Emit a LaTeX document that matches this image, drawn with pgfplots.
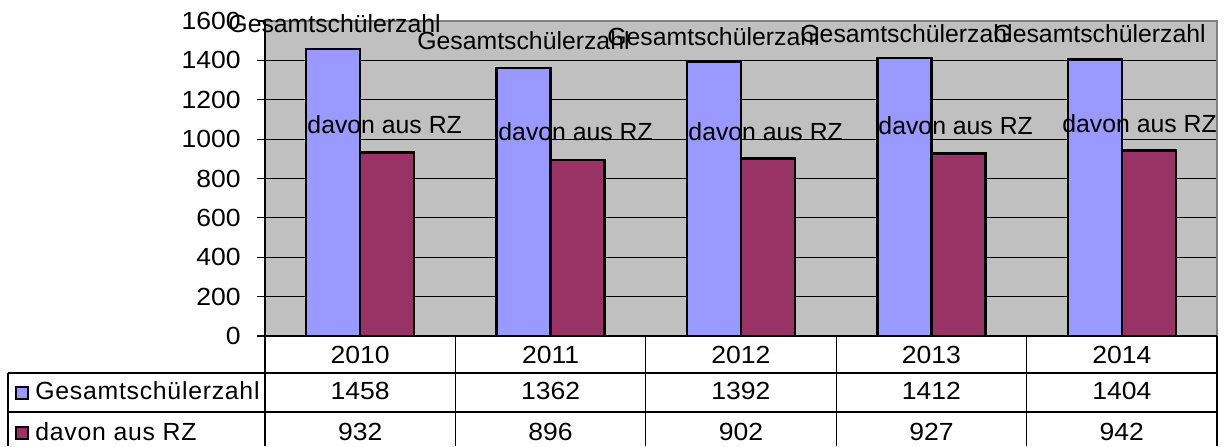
\documentclass[border=0pt]{standalone}
\usepackage{pgfplots}
\pgfplotsset{compat=1.18}
\usepackage{fontspec}
\setmainfont{Liberation Sans}
\newfontfamily\numfamily{Liberation Sans}[FakeStretch=1.07]
\definecolor{cblue}{HTML}{9999FF}
\definecolor{cmaroon}{HTML}{993366}
\definecolor{plotbg}{HTML}{C0C0C0}
\definecolor{bordergray}{HTML}{808080}
\newcommand{\lfont}{\fontsize{12.4}{14.5}\selectfont}
\newcommand{\nfont}{\numfamily\fontsize{12.4}{14.5}\selectfont}
\begin{document}
\begin{tikzpicture}[font=\lfont]
\path[use as bounding box] (-132.5pt,-55pt) rectangle (483.5pt,168pt);
\begin{axis}[
  at={(0,0)}, anchor=south west,
  width=476pt, height=157.5pt, scale only axis,
  xmin=-0.5, xmax=4.5, ymin=0, ymax=1600,
  ytick={0,200,...,1600},
  xtick={0,...,4}, xticklabels={2010,2011,2012,2013,2014},
  ytick pos=left,
  major x tick style={draw=none},
  ymajorgrids, grid style={black, line width=0.6pt},
  axis line style={bordergray, line width=0.8pt},
  tick align=outside, major tick length=4pt,
  ytick style={black, line width=0.6pt},
  tick label style={font=\nfont},
  yticklabel style={anchor=east, inner sep=0pt, xshift=-8pt},
  xticklabel style={anchor=base, inner sep=0pt, yshift=-9.5pt},
  /pgf/number format/assume math mode=true,
  /pgf/number format/1000 sep={},
  axis background/.style={fill=plotbg},
  ybar=0pt, bar width=27pt,
  clip=false,
  after end axis/.code={
    \draw[black, line width=0.8pt] (rel axis cs:0,1) -- (rel axis cs:0,0) -- (rel axis cs:1,0);
  },
]
\addplot[fill=cblue, draw=black, line width=1.1pt] coordinates {(0,1458) (1,1362) (2,1392) (3,1412) (4,1404)};
\addplot[fill=cmaroon, draw=black, line width=1.1pt] coordinates {(0,932) (1,896) (2,902) (3,927) (4,942)};

\node[anchor=base west, inner sep=0, font=\lfont] at (axis cs:-0.694,1544) {Gesamtschülerzahl};
\node[anchor=base west, inner sep=0, font=\lfont] at (axis cs:0.298,1453) {Gesamtschülerzahl};
\node[anchor=base west, inner sep=0, font=\lfont] at (axis cs:1.296,1478) {Gesamtschülerzahl};
\node[anchor=base west, inner sep=0, font=\lfont] at (axis cs:2.310,1493) {Gesamtschülerzahl};
\node[anchor=base west, inner sep=0, font=\lfont] at (axis cs:3.324,1493) {Gesamtschülerzahl};

\node[anchor=base west, inner sep=0, font=\lfont] at (axis cs:-0.279,1031) {davon aus RZ};
\node[anchor=base west, inner sep=0, font=\lfont] at (axis cs:0.724,995) {davon aus RZ};
\node[anchor=base west, inner sep=0, font=\lfont] at (axis cs:1.722,995) {davon aus RZ};
\node[anchor=base west, inner sep=0, font=\lfont] at (axis cs:2.720,1021) {davon aus RZ};
\node[anchor=base west, inner sep=0, font=\lfont] at (axis cs:3.686,1036) {davon aus RZ};

% data table
\draw[line width=0.6pt] ([xshift=-128.5pt,yshift=-18.5pt]rel axis cs:0,0) -- ([yshift=-18.5pt]rel axis cs:1,0);
\draw[line width=0.6pt] ([xshift=-128.5pt,yshift=-38pt]rel axis cs:0,0) -- ([yshift=-38pt]rel axis cs:1,0);
\draw[line width=0.6pt] ([xshift=-128.5pt,yshift=-18.5pt]rel axis cs:0,0) -- ([xshift=-128.5pt,yshift=-55pt]rel axis cs:0,0);
\pgfplotsinvokeforeach{-0.5,0.5,1.5,2.5,3.5,4.5}{
  \draw[line width=0.6pt] (axis cs:#1,0) -- ([yshift=-55pt]axis cs:#1,0);
}
\draw[fill=cblue, line width=0.6pt] ([xshift=-124.5pt,yshift=-25.5pt]rel axis cs:0,0) rectangle ++(6pt,-6pt);
\draw[fill=cmaroon, line width=0.6pt] ([xshift=-124.5pt,yshift=-45.5pt]rel axis cs:0,0) rectangle ++(6pt,-6pt);
\node[anchor=base west, inner sep=0, font=\lfont] at ([xshift=-115pt,yshift=-31.5pt]rel axis cs:0,0) {\addfontfeature{LetterSpace=3}Gesamtschülerzahl};
\node[anchor=base west, inner sep=0, font=\lfont] at ([xshift=-115pt,yshift=-52pt]rel axis cs:0,0) {\addfontfeature{LetterSpace=3}davon aus RZ};

\node[anchor=base, inner sep=0, font=\nfont] at ([yshift=-31.5pt]axis cs:0,0) {1458};
\node[anchor=base, inner sep=0, font=\nfont] at ([yshift=-31.5pt]axis cs:1,0) {1362};
\node[anchor=base, inner sep=0, font=\nfont] at ([yshift=-31.5pt]axis cs:2,0) {1392};
\node[anchor=base, inner sep=0, font=\nfont] at ([yshift=-31.5pt]axis cs:3,0) {1412};
\node[anchor=base, inner sep=0, font=\nfont] at ([yshift=-31.5pt]axis cs:4,0) {1404};
\node[anchor=base, inner sep=0, font=\nfont] at ([yshift=-52pt]axis cs:0,0) {932};
\node[anchor=base, inner sep=0, font=\nfont] at ([yshift=-52pt]axis cs:1,0) {896};
\node[anchor=base, inner sep=0, font=\nfont] at ([yshift=-52pt]axis cs:2,0) {902};
\node[anchor=base, inner sep=0, font=\nfont] at ([yshift=-52pt]axis cs:3,0) {927};
\node[anchor=base, inner sep=0, font=\nfont] at ([yshift=-52pt]axis cs:4,0) {942};
\end{axis}
\end{tikzpicture}
\end{document}
